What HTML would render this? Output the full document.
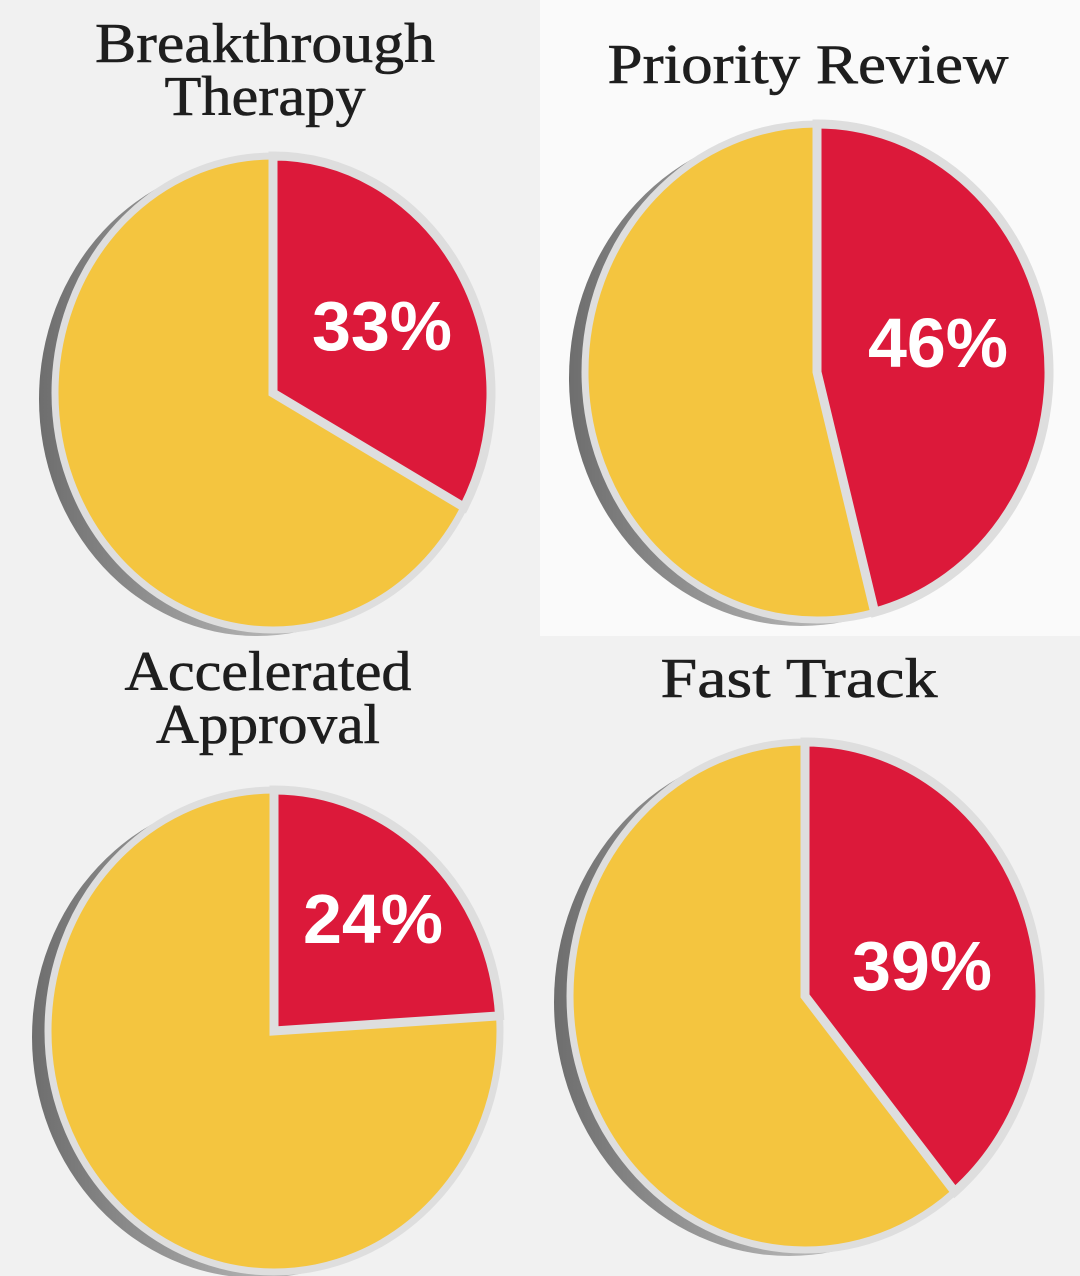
<!DOCTYPE html>
<html><head><meta charset="utf-8"><style>
html,body{margin:0;padding:0;background:#f1f1f1;}
svg{display:block}
</style></head><body>
<svg width="1080" height="1276" viewBox="0 0 1080 1276">
<defs>
<linearGradient id="rim" x1="0" x2="1" y1="0" y2="0">
<stop offset="0" stop-color="#6e6e6e"/><stop offset="0.5" stop-color="#b0b0b0"/><stop offset="1" stop-color="#d8d8d8"/>
</linearGradient>
</defs>
<rect x="540" y="0" width="540" height="636" fill="#fafafa"/>
<g id="charts"></g>
</svg>
<script>
const titles = [["Breakthrough","Therapy"],["Priority Review"],["Accelerated","Approval"],["Fast Track"]];
const values = [33, 46, 24, 39];
const labels = ["33%","46%","24%","39%"];
const slugs = ["breakthrough-therapy","priority-review","accelerated-approval","fast-track"];
const layout = [
 {cx:273,cy:393,rx:218,ry:237,tx:265,ty:[62,115],tw:[340,201],lx:382,ly:350},
 {cx:817,cy:372,rx:232,ry:248,tx:808,ty:[83],tw:[401],lx:938,ly:367},
 {cx:274,cy:1031,rx:226,ry:241,tx:268,ty:[690,743],tw:[287,224],lx:373,ly:943},
 {cx:805,cy:996,rx:235,ry:254,tx:799,ty:[697],tw:[277],lx:922,ly:990}
];
const NS="http://www.w3.org/2000/svg";
const root=document.getElementById('charts');
function mk(tag,attrs,parent){const e=document.createElementNS(NS,tag);for(const k in attrs)e.setAttribute(k,attrs[k]);parent.appendChild(e);return e;}
function pt(L,frac){const a=frac*2*Math.PI;return [L.cx+L.rx*Math.sin(a),L.cy-L.ry*Math.cos(a)];}
values.forEach((v,i)=>{
 const L=layout[i];
 const g=mk('g',{},root);
 
 
 titles[i].forEach((t,j)=>{
  const tx=mk('text',{x:L.tx,y:L.ty[j],'text-anchor':'middle','font-family':'"Liberation Serif", serif','font-size':56,fill:'#1e1e1e',stroke:'#1e1e1e','stroke-width':0.6,textLength:L.tw[j],lengthAdjust:'spacingAndGlyphs'},g);
  tx.textContent=t;
  
  
 });
 const rim=mk('ellipse',{cx:L.cx-16,cy:L.cy+6,rx:L.rx,ry:L.ry,fill:'url(#rim)'},g);
 
 
 const face=mk('ellipse',{cx:L.cx,cy:L.cy,rx:L.rx,ry:L.ry,fill:'#f4c53f',stroke:'#dedede','stroke-width':7},g);
 
 
 const p0=pt(L,0),p1=pt(L,v/100);
 const large=v>50?1:0;
 const d=`M${L.cx},${L.cy} L${p0[0]},${p0[1]} A${L.rx},${L.ry} 0 ${large} 1 ${p1[0]},${p1[1]} Z`;
 const red=mk('path',{d:d,fill:'#dc193a',stroke:'#dedede','stroke-width':9,'stroke-linejoin':'miter'},g);
 
 
 const lab=mk('text',{x:L.lx,y:L.ly,'text-anchor':'middle','font-family':'"Liberation Sans", sans-serif','font-weight':'bold','font-size':70,fill:'#ffffff'},g);
 lab.textContent=labels[i];
 
 
});
</script>
</body></html>
